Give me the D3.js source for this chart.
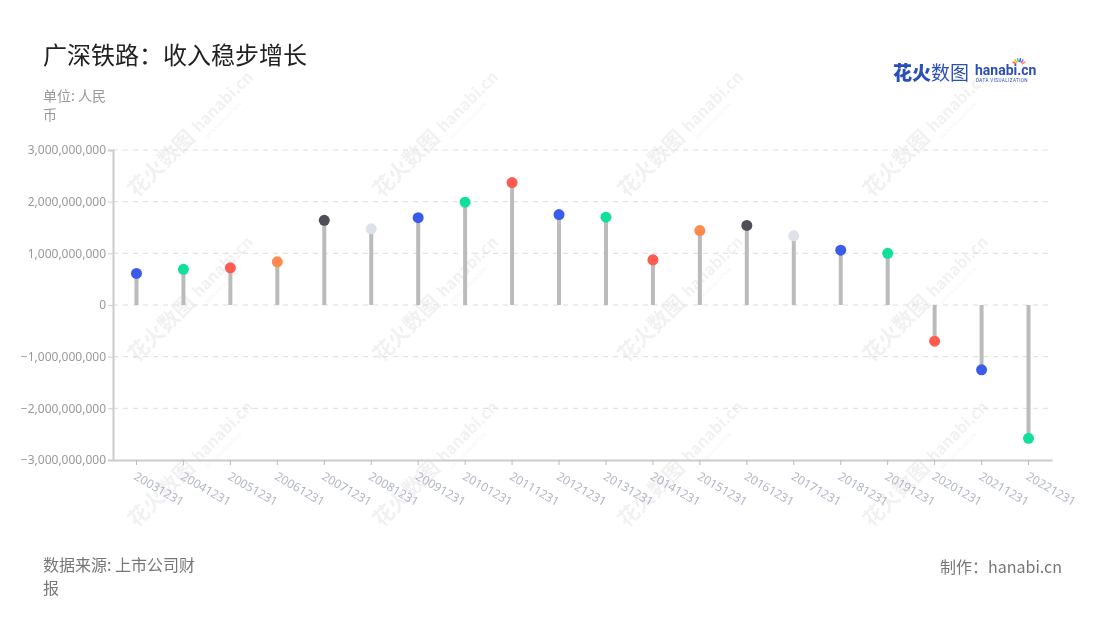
<!DOCTYPE html>
<html><head><meta charset="utf-8">
<script src="https://cdn.jsdelivr.net/npm/d3@7"></script>
<style>
html,body{margin:0;padding:0;background:#fff;}
svg{display:block;font-family:"Noto Sans CJK SC","Noto Sans",sans-serif;}
</style></head>
<body>
<svg id="c" width="1100" height="620"></svg>
<script>
const categories = ["20031231","20041231","20051231","20061231","20071231","20081231","20091231","20101231","20111231","20121231","20131231","20141231","20151231","20161231","20171231","20181231","20191231","20201231","20211231","20221231"];
const values = [610000000,690000000,720000000,836000000,1640000000,1475000000,1690000000,1990000000,2370000000,1750000000,1700000000,875000000,1440000000,1540000000,1340000000,1060000000,1000000000,-700000000,-1255000000,-2580000000];
const palette = ["#3b5bea","#12df9b","#ff5b4f","#ff8a4c","#4e4e59","#dde1ea","#3b5bea","#12df9b","#ff5b4f"];
const yTicks = [-3000000000,-2000000000,-1000000000,0,1000000000,2000000000,3000000000];

const svg = d3.select("#c");
const m = {l:113, r:1052, t:150, b:460};

// watermarks
const wm = svg.append("g").attr("opacity",0.055);
const wxs = [165, 410, 655, 900], wys = [170, 335, 500];
wxs.forEach(x=>wys.forEach(y=>{
  const g = wm.append("g").attr("transform",`translate(${x},${y}) rotate(-45)`);
  g.append("text").attr("x",-40).attr("y",0).attr("font-size",21).attr("font-weight",700).attr("fill","#000").text("花火数图");
  g.append("text").attr("x",50).attr("y",-2).attr("font-size",16).attr("font-weight",700).attr("fill","#000").text("hanabi.cn");
  g.append("text").attr("x",52).attr("y",8).attr("font-size",5).attr("fill","#000").text("DATA VISUALIZATION");
}));

const x = d3.scaleBand().domain(categories).range([m.l, m.r]).padding(0);
const y = d3.scaleLinear().domain([-3000000000,3000000000]).range([m.b, m.t]);

// grid
svg.append("g").selectAll("line").data(yTicks.filter(d=>d!==-3000000000)).join("line")
  .attr("x1",m.l).attr("x2",m.r).attr("y1",d=>y(d)).attr("y2",d=>y(d))
  .attr("stroke","#dddddd").attr("stroke-width",1).attr("stroke-dasharray","5,5");

// y axis
const ya = svg.append("g").attr("transform",`translate(${m.l},0)`)
  .call(d3.axisLeft(y).tickValues(yTicks).tickSize(5).tickFormat(d3.format(",")));
ya.select(".domain").attr("stroke","#cccccc").attr("stroke-width",2);
ya.selectAll(".tick line").attr("stroke","#cccccc");
ya.selectAll(".tick text").attr("fill","#999999").attr("font-size",12).attr("x",-7)
  .attr("font-family","'Noto Sans',sans-serif");

// x axis
const xa = svg.append("g").attr("transform",`translate(0,${m.b})`)
  .call(d3.axisBottom(x).tickSize(5).tickSizeOuter(0));
xa.select(".domain").attr("stroke","#cccccc").attr("stroke-width",2);
xa.selectAll(".tick line").attr("stroke","#bbbbbb");
xa.selectAll(".tick text").attr("fill","#b3b7c6").attr("font-size",12)
  .attr("font-family","'Noto Sans',sans-serif")
  .attr("text-anchor","start").attr("transform","translate(4,6) rotate(30)").attr("dy","0.9em").attr("y",4).attr("x",0);

// stems
const cx = d=>x(d)+x.bandwidth()/2;
svg.append("g").selectAll("line").data(categories).join("line")
  .attr("x1",cx).attr("x2",cx).attr("y1",y(0)).attr("y2",(d,i)=>y(values[i]))
  .attr("stroke","#bbbbbb").attr("stroke-width",4);
// dots
svg.append("g").selectAll("circle").data(categories).join("circle")
  .attr("cx",cx).attr("cy",(d,i)=>y(values[i])).attr("r",5.5)
  .attr("fill",(d,i)=>palette[i%palette.length]);

// title
svg.append("text").attr("x",43).attr("y",64).attr("font-size",24).attr("fill","#222").text("广深铁路：收入稳步增长");
svg.append("text").attr("x",43).attr("y",101).attr("font-size",14).attr("fill","#999").text("单位: 人民");
svg.append("text").attr("x",43).attr("y",120).attr("font-size",14).attr("fill","#999").text("币");

// footer
svg.append("text").attr("x",43).attr("y",571).attr("font-size",16).attr("fill","#777").text("数据来源: 上市公司财");
svg.append("text").attr("x",43).attr("y",594).attr("font-size",16).attr("fill","#777").text("报");
svg.append("text").attr("x",1062).attr("y",573).attr("text-anchor","end").attr("font-size",16).attr("fill","#777").text("制作：hanabi.cn");

// logo
const lg = svg.append("g");
lg.append("text").attr("x",893).attr("y",80).attr("font-size",19).attr("font-weight",900).attr("fill","#2b4fb8").text("花火");
lg.append("text").attr("x",931).attr("y",80).attr("font-size",19).attr("fill","#2b4fb8").text("数图");
lg.append("text").attr("x",975).attr("y",75).attr("font-size",14).attr("font-weight",700).attr("fill","#2b4fb8").attr("font-family","Roboto,sans-serif").text("hanabi.cn");
lg.append("text").attr("x",976).attr("y",82).attr("font-size",4.6).attr("fill","#2b4fb8").attr("font-family","Roboto,sans-serif").attr("letter-spacing",0.4).text("DATA VISUALIZATION");
const sp = ["#ff5b4f","#ffb400","#12df9b","#3b5bea","#b05bea","#ff8a4c"];
sp.forEach((c,i)=>{const a=-Math.PI/2+(i-2.5)*0.45;
  lg.append("line").attr("x1",1019+Math.cos(a)*3).attr("y1",65+Math.sin(a)*3).attr("x2",1019+Math.cos(a)*7).attr("y2",65+Math.sin(a)*7).attr("stroke",c).attr("stroke-width",1.5);});
</script>
</body></html>
